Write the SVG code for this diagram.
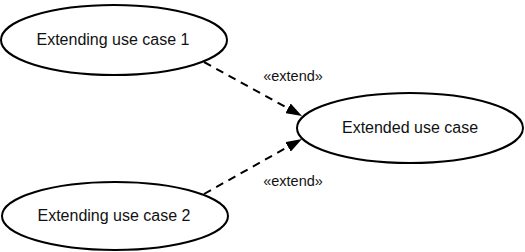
<svg xmlns="http://www.w3.org/2000/svg" width="525" height="252" viewBox="0 0 525 252">
  <style>
    .uc { fill: #fff; stroke: #000; stroke-width: 2; }
    .lbl { font-family: "Liberation Sans", Arial, sans-serif; font-size: 16px; fill: #111; text-anchor: middle; dominant-baseline: central; }
    .stereo { font-family: "Liberation Sans", Arial, sans-serif; font-size: 14.5px; fill: #111; text-anchor: middle; dominant-baseline: central; }
    .dep { fill: none; stroke: #000; stroke-width: 2; stroke-dasharray: 8 6; }
  </style>
  <defs>
    <marker id="arrow" viewBox="0 0 16 11" refX="16" refY="5.5" markerWidth="16" markerHeight="11" markerUnits="userSpaceOnUse" orient="auto">
      <path d="M0,0 L16,5.5 L0,11 Z" fill="#000"/>
    </marker>
  </defs>

  <g id="connectors">
    <line class="dep" x1="204" y1="62" x2="302" y2="116" marker-end="url(#arrow)"/>
    <line class="dep" x1="204" y1="194" x2="302" y2="139" marker-end="url(#arrow)"/>
    <text class="stereo" x="293" y="76">«extend»</text>
    <text class="stereo" x="293" y="181">«extend»</text>
  </g>

  <g id="extending-1">
    <ellipse class="uc" cx="114" cy="40" rx="113" ry="35"/>
    <text class="lbl" x="113" y="39">Extending use case 1</text>
  </g>

  <g id="extending-2">
    <ellipse class="uc" cx="115" cy="216" rx="113" ry="34"/>
    <text class="lbl" x="114" y="215">Extending use case 2</text>
  </g>

  <g id="extended">
    <ellipse class="uc" cx="410" cy="128" rx="113" ry="35"/>
    <text class="lbl" x="410" y="127">Extended use case</text>
  </g>
</svg>
